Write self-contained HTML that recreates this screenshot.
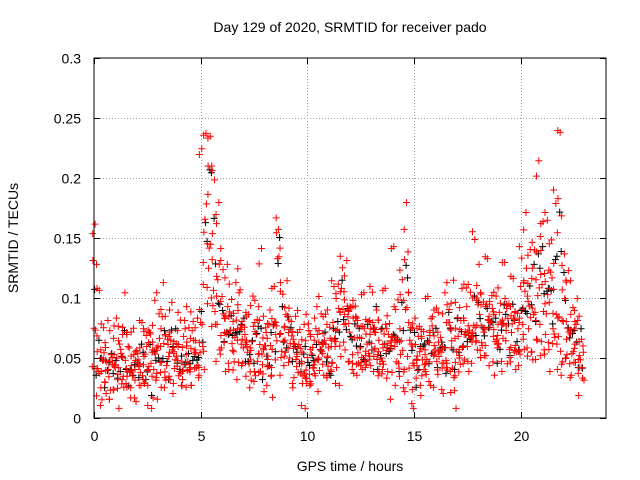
<!DOCTYPE html>
<html><head><meta charset="utf-8"><style>
html,body{margin:0;padding:0;background:#fff;}
svg{display:block;font-family:"Liberation Sans",sans-serif;}
</style></head><body>
<svg id="chart" width="640" height="480" xmlns="http://www.w3.org/2000/svg">
<text x="350" y="32" font-size="14" text-anchor="middle">Day 129 of 2020, SRMTID for receiver pado</text>
<text x="350" y="471" font-size="14" text-anchor="middle">GPS time / hours</text>
<text transform="translate(18,238) rotate(-90)" font-size="14" text-anchor="middle">SRMTID / TECUs</text>
<g id="grid"></g>
<g id="ticks"></g>
<g id="black"></g>
<g id="red"></g>
<rect x="94" y="58" width="512" height="360" fill="none" stroke="#000" stroke-width="1"/>
</svg>
<script>
const xTicks=[0,5,10,15,20];
const yTicks=[0,0.05,0.1,0.15,0.2,0.25,0.3];
const yTickLabels=["0","0.05","0.1","0.15","0.2","0.25","0.3"];
const times=[0,0.2,0.4,0.6,0.8,1,1.2,1.4,1.6,1.8,2,2.2,2.4,2.6,2.8,3,3.2,3.4,3.6,3.8,4,4.2,4.4,4.6,4.8,5,5.2,5.4,5.6,5.8,6,6.2,6.4,6.6,6.8,7,7.2,7.4,7.6,7.8,8,8.2,8.4,8.6,8.8,9,9.2,9.4,9.6,9.8,10,10.2,10.4,10.6,10.8,11,11.2,11.4,11.6,11.8,12,12.2,12.4,12.6,12.8,13,13.2,13.4,13.6,13.8,14,14.2,14.4,14.6,14.8,15,15.2,15.4,15.6,15.8,16,16.2,16.4,16.6,16.8,17,17.2,17.4,17.6,17.8,18,18.2,18.4,18.6,18.8,19,19.2,19.4,19.6,19.8,20,20.2,20.4,20.6,20.8,21,21.2,21.4,21.6,21.8,22,22.2,22.4,22.6,22.8];
const redA=[.07,.05,.04,.05,.04,.05,.06,.04,.05,.04,.05,.04,.05,.06,.05,.06,.07,.05,.06,.05,.05,.06,.05,.06,.05,.07,.18,.14,.10,.12,.09,.08,.07,.08,.09,.06,.05,.07,.06,.05,.06,.07,.08,.12,.07,.08,.07,.06,.05,.04,.06,.05,.06,.07,.06,.06,.07,.08,.10,.09,.08,.07,.06,.07,.06,.07,.06,.05,.07,.06,.08,.06,.05,.10,.06,.05,.06,.05,.06,.07,.06,.05,.06,.07,.04,.06,.07,.08,.07,.09,.08,.07,.09,.08,.07,.08,.09,.07,.08,.06,.10,.12,.09,.08,.11,.10,.09,.12,.08,.07,.09,.07,.06,.07,.05];
const redB=[.03,.02,.03,.02,.03,.02,.03,.04,.03,.02,.03,.04,.03,.02,.03,.04,.03,.04,.03,.04,.04,.03,.04,.05,.04,.05,.12,.10,.07,.06,.05,.06,.05,.04,.06,.05,.03,.04,.05,.03,.04,.03,.05,.06,.05,.05,.04,.03,.04,.02,.03,.04,.03,.05,.04,.04,.05,.04,.06,.07,.05,.04,.05,.04,.05,.05,.04,.04,.05,.03,.05,.04,.03,.04,.02,.03,.04,.03,.04,.05,.04,.03,.04,.05,.01,.04,.05,.05,.06,.06,.05,.06,.07,.05,.06,.06,.05,.06,.05,.05,.07,.06,.05,.06,.07,.06,.05,.07,.06,.05,.04,.05,.04,.05,.03];
const redC=[.16,.10,.08,.07,.06,.08,.07,.09,.06,.07,.06,.07,.08,.07,.09,.09,.10,.08,.09,.07,.08,.07,.08,.09,.08,.21,.25,.23,.20,.17,.13,.12,.11,.10,.11,.09,.08,.10,.09,.13,.08,.09,.10,.17,.10,.10,.09,.08,.08,.07,.08,.07,.08,.09,.08,.09,.10,.11,.13,.12,.10,.09,.08,.09,.09,.10,.09,.08,.10,.09,.13,.10,.12,.17,.09,.08,.07,.08,.09,.08,.09,.08,.09,.10,.11,.09,.10,.11,.10,.16,.12,.10,.12,.11,.10,.11,.12,.10,.11,.10,.13,.16,.15,.14,.20,.17,.16,.15,.19,.23,.14,.11,.10,.09,.08];
const redD=[.12,.06,.05,.03,.06,.04,.05,.06,.03,.05,.04,.06,.04,.05,.06,.05,.04,.06,.07,.06,.05,.04,.06,.04,.05,.10,.15,.21,.16,.11,.08,.07,.09,.06,.08,.08,.06,.05,.08,.07,.06,.05,.07,.14,.08,.06,.08,.05,.06,.05,.04,.06,.05,.06,.07,.05,.06,.09,.11,.08,.06,.08,.07,.06,.07,.06,.08,.06,.06,.07,.06,.07,.09,.14,.07,.06,.05,.06,.05,.06,.07,.06,.07,.08,.06,.07,.08,.06,.08,.10,.09,.08,.08,.09,.08,.07,.08,.08,.09,.07,.08,.10,.11,.12,.14,.13,.12,.10,.14,.17,.11,.08,.08,.06,.06];
const blackA=[.05,.04,.03,.04,.05,.03,.04,.05,.04,.03,.04,.05,.04,.03,.04,.05,.06,.04,.05,.06,.05,.04,.05,.04,.06,.06,.16,.19,.13,.09,.07,.06,.08,.07,.07,.05,.04,.06,.07,.04,.05,.06,.06,.16,.06,.07,.06,.05,.04,.05,.05,.04,.06,.05,.05,.05,.06,.07,.09,.08,.07,.06,.05,.06,.06,.06,.05,.07,.06,.05,.07,.05,.06,.12,.05,.04,.05,.06,.05,.06,.05,.06,.05,.06,.05,.05,.06,.07,.06,.08,.07,.07,.08,.07,.06,.07,.08,.06,.07,.06,.09,.10,.08,.09,.12,.11,.10,.08,.13,.15,.09,.07,.06,.05,.04];
const fine=[3,-7,5,-2,8,-5,1,-9,6,-3,4,-8,2,7,-6,0,9,-4,3,-1,-7,5,-2,8,-5,6,-9,1,4,-3,7,-6,2,-8,9,-1,3,-4,6,-7,0,5,-2,8,-9,4,-5,1,7,-3,-6,2,9,-8,3,-1,6,-4,5,-7,8,-2,-9,4,1,-5,7,-3,0,6,-8,2,9,-6,3,-4,5,-1,-7,8,-2,4,-9,6,1,-3,7,-5,2,-8,9,-6,3,0,-4,5,-7,8,-1,-3,6,-9,2,4,-5,7,-2,1,-8,9,-6,3,-4,5,-1];

const X0=94,X1=606,Y0=418,Y1=58;
function xs(t){return X0+(t/24)*(X1-X0);}
function ys(v){return Y0-(v/0.3)*(Y0-Y1);}
const NS="http://www.w3.org/2000/svg";
const grid=document.getElementById('grid'),ticks=document.getElementById('ticks');
function line(g,x1,y1,x2,y2,st,dash){const l=document.createElementNS(NS,'line');l.setAttribute('x1',x1);l.setAttribute('y1',y1);l.setAttribute('x2',x2);l.setAttribute('y2',y2);l.setAttribute('stroke',st);if(dash)l.setAttribute('stroke-dasharray',dash);g.appendChild(l);return l;}
function txt(x,y,s,anchor,name){const t=document.createElementNS(NS,'text');t.setAttribute('x',x);t.setAttribute('y',y);t.setAttribute('font-size','14');t.setAttribute('text-anchor',anchor);t.textContent=s;


document.getElementById('chart').appendChild(t);}
xTicks.forEach(t=>{const x=Math.round(xs(t))+0.5;
if(t>0)line(grid,x,Y1,x,Y0,'#a0a0a0','1,2');
line(ticks,x,Y0,x,Y0-6,'#000');line(ticks,x,Y1,x,Y1+6,'#000');
txt(x,Y0+23,String(t),'middle','x-tick-label');});
yTicks.forEach((v,i)=>{const y=Math.round(ys(v))+0.5;
if(i>0&&i<yTicks.length-1)line(grid,X0,y,X1,y,'#a0a0a0','1,2');
line(ticks,X0,y,X0+6,y,'#000');line(ticks,X1,y,X1-6,y,'#000');
txt(X0-13,y+5,yTickLabels[i],'end','y-tick-label');});
function plus(g,arr,dt,k,color){let d='';const n=fine.length;arr.forEach((v,i)=>{const vv=Math.max(0.008,v+fine[(i+k)%n]*0.0016);const x=xs(times[i]+dt),y=ys(vv);d+=`M${x-3.5},${y}h7M${x},${y-3.5}v7`;});
const p=document.createElementNS(NS,'path');p.setAttribute('d',d);p.setAttribute('stroke',color);p.setAttribute('stroke-width','1');p.setAttribute('fill','none');


g.appendChild(p);}
const bk=document.getElementById('black'),rd=document.getElementById('red');
plus(bk,blackA,0.1,7,'#000');
plus(bk,redD,0.03,53,'#000');
plus(rd,redA,0,0,'#f00');plus(rd,redB,0.1,13,'#f00');plus(rd,redC,0.05,27,'#f00');plus(rd,redD,0.12,41,'#f00');
plus(rd,redD,-0.05,66,'#f00');plus(rd,redA,0.07,88,'#f00');plus(rd,redB,-0.08,97,'#f00');plus(rd,redA,0.14,19,'#f00');
plus(rd,redC,-0.06,75,'#f00');plus(rd,redB,0.17,48,'#f00');
</script>
</body></html>
